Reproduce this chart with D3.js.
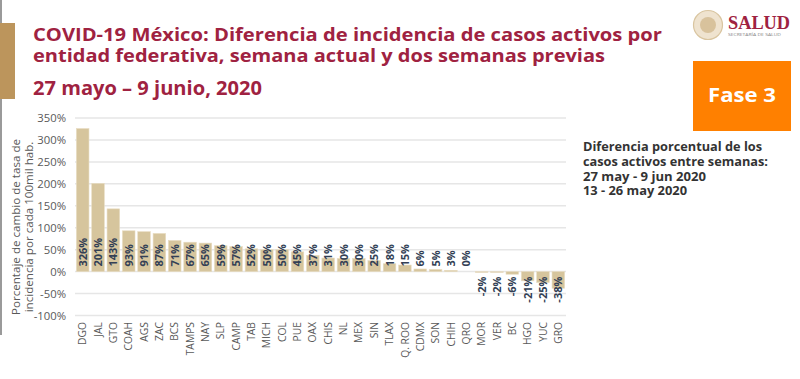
<!DOCTYPE html>
<html>
<head>
<meta charset="utf-8">
<script src="https://cdn.jsdelivr.net/npm/d3@7"></script>
<style>
  html, body { margin: 0; padding: 0; background: #ffffff; }
  svg { display: block; font-family: "Open Sans", sans-serif; }
</style>
</head>
<body>
<svg id="chart" width="800" height="379"></svg>
<script>
// ---- data ----
const categories = ["DGO","JAL","GTO","COAH","AGS","ZAC","BCS","TAMPS","NAY","SLP","CAMP","TAB","MICH","COL","PUE","OAX","CHIS","NL","MEX","SIN","TLAX","Q. ROO","CDMX","SON","CHIH","QRO","MOR","VER","BC","HGO","YUC","GRO"];
const values = [326,201,143,93,91,87,71,67,65,59,57,52,50,50,45,37,31,30,30,25,18,15,6,5,3,0,-2,-2,-6,-21,-25,-38];
const yTicks = [-100,-50,0,50,100,150,200,250,300,350];
const titleLines = ["COVID-19 México: Diferencia de incidencia de casos activos por", "entidad federativa, semana actual y dos semanas previas"];
const subtitle = "27 mayo – 9 junio, 2020";
const yLabelLines = ["Porcentaje de cambio de tasa de", "incidencia por cada 100mil hab."];
const legendLines = ["Diferencia porcentual de los", "casos activos entre semanas:", "27 may - 9 jun 2020", "13 - 26 may 2020"];

const svg = d3.select("#chart");
const crimson = "#9f2241";

// decoration: left border and gold tab
svg.append("rect").attr("x",0).attr("y",0).attr("width",2).attr("height",335).attr("fill","#9a9a9a");
svg.append("rect").attr("x",0).attr("y",23).attr("width",15).attr("height",76).attr("fill","#bc955c");

// titles
const titleWidths = [629, 572];
titleLines.forEach((t,i)=>{
  svg.append("text").attr("x",33).attr("y",[41,62][i])
    .attr("font-size",17.5).attr("font-weight",700).attr("fill",crimson)
    .attr("textLength",titleWidths[i]).attr("lengthAdjust","spacingAndGlyphs")
    .text(t);
});
svg.append("text").attr("x",33).attr("y",95)
  .attr("font-size",19.5).attr("font-weight",700).attr("fill",crimson)
  .attr("textLength",229).attr("lengthAdjust","spacingAndGlyphs")
  .text(subtitle);

// logo
const logo = svg.append("g");
logo.append("circle").attr("cx",708).attr("cy",25).attr("r",14.5).attr("fill","#efe3cf").attr("stroke","#d9c5a0").attr("stroke-width",1.2);
logo.append("circle").attr("cx",708).attr("cy",25).attr("r",8).attr("fill","#d8c29c");
logo.append("text").attr("x",728).attr("y",29).attr("font-family","Liberation Serif, serif")
  .attr("font-size",19).attr("font-weight",700).attr("fill",crimson)
  .attr("textLength",62).attr("lengthAdjust","spacingAndGlyphs").text("SALUD");
logo.append("text").attr("x",728).attr("y",35.5).attr("font-size",3.6).attr("fill","#888")
  .attr("textLength",53).attr("lengthAdjust","spacingAndGlyphs").text("SECRETARÍA DE SALUD");

// Fase 3 box
svg.append("rect").attr("x",693).attr("y",61).attr("width",98).attr("height",70).attr("fill","#ff8000");
svg.append("text").attr("x",742).attr("y",102).attr("text-anchor","middle")
  .attr("font-size",19).attr("font-weight",700).attr("fill","#ffffff")
  .attr("textLength",68).attr("lengthAdjust","spacingAndGlyphs").text("Fase 3");

// legend text
const legendWidths = [179, 185, 123, 104];
legendLines.forEach((t,i)=>{
  svg.append("text").attr("x",583).attr("y",[151,166,181,195][i])
    .attr("font-size",11.5).attr("font-weight",700).attr("fill","#333333")
    .attr("textLength",legendWidths[i]).attr("lengthAdjust","spacingAndGlyphs")
    .text(t);
});

// scales
const x = d3.scaleBand().domain(categories).range([75,566]).paddingInner(0.18).paddingOuter(0.09);
const y = d3.scaleLinear().domain([-100,350]).range([315.5,118]);

// gridlines
svg.append("g").selectAll("line").data(yTicks).join("line")
  .attr("x1",75).attr("x2",566).attr("y1",d=>y(d)).attr("y2",d=>y(d))
  .attr("stroke","#e6e6e6").attr("stroke-width",1.5);

// y axis
const yAxis = svg.append("g").attr("transform","translate(66,0)")
  .call(d3.axisLeft(y).tickValues(yTicks).tickSize(0).tickPadding(0).tickFormat(d=>d+"%"));
yAxis.select(".domain").remove();
yAxis.selectAll("text").attr("font-size",11.3).attr("fill","#595959").attr("font-family","Open Sans, sans-serif");

// y axis title
yLabelLines.forEach((t,i)=>{
  svg.append("text").attr("transform",`translate(${[20,33][i]},227) rotate(-90)`)
    .attr("text-anchor","middle").attr("font-size",11.6).attr("fill","#595959")
    .text(t);
});

// bars
svg.append("g").selectAll("rect").data(values).join("rect")
  .attr("x",(d,i)=>x(categories[i]))
  .attr("width",x.bandwidth())
  .attr("y",d=>y(Math.max(0,d)))
  .attr("height",d=>Math.abs(y(d)-y(0)))
  .attr("fill","#d6c59d").attr("stroke","#e8dcc2").attr("stroke-width",0.6);

// bar labels
svg.append("g").selectAll("text").data(values).join("text")
  .attr("transform",(d,i)=>{
    const cx = x(categories[i]) + x.bandwidth()/2 + 4;
    const yy = d >= 0 ? y(0) - 5 : y(0) + 5;
    return `translate(${cx},${yy}) rotate(-90)`;
  })
  .attr("text-anchor",d=>d>=0?"start":"end")
  .attr("font-size",11).attr("font-weight",700).attr("fill","#333f55")
  .text(d=>d+"%");

// x axis labels
const xAxis = svg.append("g").attr("transform","translate(0,319)")
  .call(d3.axisBottom(x).tickSize(0).tickPadding(0));
xAxis.select(".domain").remove();
xAxis.selectAll("text")
  .attr("font-size",10.3).attr("fill","#595959").attr("font-family","Open Sans, sans-serif")
  .attr("transform","rotate(-90)").attr("text-anchor","end")
  .attr("x",-3).attr("y",0).attr("dy","0.35em");
</script>
</body>
</html>
